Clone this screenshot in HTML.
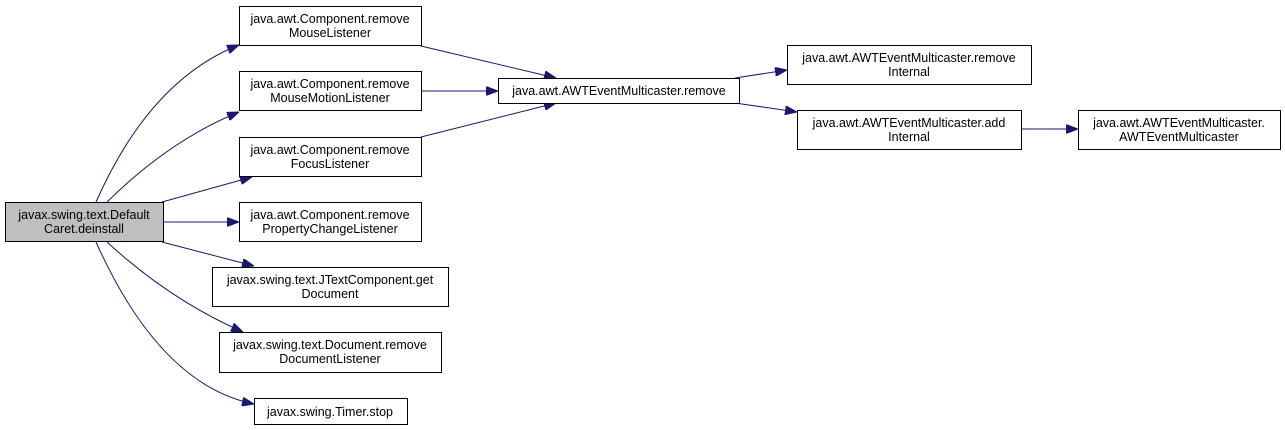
<!DOCTYPE html>
<html><head><style>
html,body{margin:0;padding:0;background:#fff;}
svg{display:block;}
text{font-family:"Liberation Sans",Arial,sans-serif;font-size:12.5px;fill:#000;}
</style></head><body>
<svg width="1285" height="430" viewBox="0 0 1285 430" xmlns="http://www.w3.org/2000/svg">
<defs>
<marker id="a" markerWidth="12" markerHeight="9" refX="12" refY="4.5" orient="auto" markerUnits="userSpaceOnUse">
<path d="M0,0 L12,4.5 L0,9 Z" fill="#191970" stroke="#191970"/>
</marker>
</defs>
<g fill="none" stroke="#191970" stroke-width="1" marker-end="url(#a)">
<path d="M96,202 Q150,80 239,45"/>
<path d="M107,202 Q170,140 239,112"/>
<path d="M162,202 L252,177"/>
<path d="M164,222 L239,222"/>
<path d="M162,242 L254,266"/>
<path d="M107,242 Q170,300 243,332"/>
<path d="M96,242 Q160,385 254,404"/>
<path d="M421,46 L556,78"/>
<path d="M422,91 L498,91"/>
<path d="M421,137 L556,103"/>
<path d="M735,78 L787,70"/>
<path d="M735,103 L797,112"/>
<path d="M1021,129 L1078,129"/>
</g>
<g stroke="#000" stroke-width="1">
<rect x="5.5" y="202.5" width="158" height="39" fill="#bfbfbf"/>
<rect x="239.5" y="6.5" width="182" height="39" fill="#fff"/>
<rect x="239.5" y="71.5" width="182" height="39" fill="#fff"/>
<rect x="239.5" y="137.5" width="182" height="39" fill="#fff"/>
<rect x="239.5" y="202.5" width="182" height="39" fill="#fff"/>
<rect x="212.5" y="267.5" width="236" height="39" fill="#fff"/>
<rect x="219.5" y="332.5" width="222" height="40" fill="#fff"/>
<rect x="254.5" y="398.5" width="153" height="26" fill="#fff"/>
<rect x="498.5" y="78.5" width="241" height="25" fill="#fff"/>
<rect x="787.5" y="45.5" width="244" height="39" fill="#fff"/>
<rect x="797.5" y="110.5" width="224" height="39" fill="#fff"/>
<rect x="1078.5" y="110.5" width="202" height="39" fill="#fff"/>
</g>
<g text-anchor="middle">
<text x="84" y="219">javax.swing.text.Default</text><text x="84" y="233">Caret.deinstall</text>
<text x="330" y="23">java.awt.Component.remove</text><text x="330" y="37">MouseListener</text>
<text x="330" y="88">java.awt.Component.remove</text><text x="330" y="102">MouseMotionListener</text>
<text x="330" y="154">java.awt.Component.remove</text><text x="330" y="168">FocusListener</text>
<text x="330" y="219">java.awt.Component.remove</text><text x="330" y="233">PropertyChangeListener</text>
<text x="330" y="284">javax.swing.text.JTextComponent.get</text><text x="330" y="298">Document</text>
<text x="330" y="349">javax.swing.text.Document.remove</text><text x="330" y="363">DocumentListener</text>
<text x="330" y="416">javax.swing.Timer.stop</text>
<text x="619" y="95">java.awt.AWTEventMulticaster.remove</text>
<text x="909" y="62">java.awt.AWTEventMulticaster.remove</text><text x="909" y="76">Internal</text>
<text x="909" y="127">java.awt.AWTEventMulticaster.add</text><text x="909" y="141">Internal</text>
<text x="1179" y="127">java.awt.AWTEventMulticaster.</text><text x="1179" y="141">AWTEventMulticaster</text>
</g>
</svg>
</body></html>
